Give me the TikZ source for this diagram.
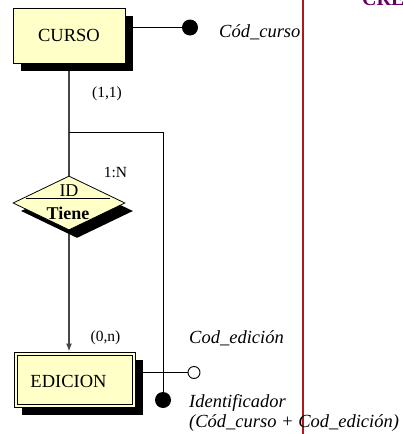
\documentclass[tikz,border=0pt]{standalone}
\usepackage{fontspec}
\setmainfont{Liberation Serif}
\usetikzlibrary{shapes.geometric,shadows,arrows.meta,backgrounds}
\definecolor{entfill}{RGB}{255,255,200}
\definecolor{linkgray}{RGB}{70,70,70}
\definecolor{sepred}{RGB}{175,25,25}
\definecolor{titlepurple}{RGB}{102,0,102}
\tikzset{
  shade8/.style={general shadow={fill=black, shadow xshift=8pt, shadow yshift=-8pt}},
  entity/.style={rectangle, draw=black, line width=0.8pt, fill=entfill, shade8,
    minimum height=55pt, inner sep=0pt, font=\fontsize{18.5}{20}\selectfont},
  entname/.style={inner sep=0pt, font=\fontsize{18.5}{20}\selectfont},
  rel/.style={diamond, draw=black, line width=0.8pt, fill=entfill, shade8,
    minimum width=112pt, minimum height=54pt, inner sep=0pt},
  relname/.style={inner sep=0pt, font=\fontsize{18}{20}\selectfont},
  link/.style={draw=linkgray, line width=2pt},
  attrline/.style={draw=black, line width=1pt},
  keydot/.style={circle, fill=black, minimum size=16pt, inner sep=0pt},
  opendot/.style={circle, draw=black, fill=white, line width=0.9pt, minimum size=12pt, inner sep=0pt},
  card/.style={font=\fontsize{15.5}{17}\selectfont, inner sep=0pt},
  attrlabel/.style={font=\fontsize{18.5}{20}\selectfont\itshape, inner sep=0pt, anchor=base west},
}
\begin{document}
\begin{tikzpicture}[x=1pt,y=-1pt]
\useasboundingbox (0,0) rectangle (403,434);
\clip (0,0) rectangle (403,434);

% title fragment and separator
\node[anchor=base west, inner sep=0pt, text=titlepurple,
      font=\fontsize{20}{22}\selectfont\bfseries] (title) at (362,5) {CRE};
\draw[sepred, line width=1.3pt] (303,0) -- (303,434);

% entities
\node[entity, minimum width=112pt] (curso) at (69,35.5) {CURSO};
\node[entity, minimum width=121pt] (edicion) at (74.5,379.5) {};
\draw[line width=0.8pt] ([shift={(3.5,3.5)}]edicion.north west)
  rectangle ([shift={(-3.5,-3.5)}]edicion.south east);
\node[entname] (edname) at (68.5,381) {EDICION};

% relationship
\node[rel] (tiene) at (69,203) {};
\draw[line width=0.8pt] ([shift={(-43.5,-5)}]tiene.center) -- ([shift={(40.5,-5)}]tiene.center);
\node[relname] (relid) at (69,191) {ID};
\node[relname, font=\fontsize{18}{20}\selectfont\bfseries] (relname) at (68,213) {Tiene};

% attribute markers
\node[keydot] (ckey) at (190,27.5) {};
\node[keydot] (ekey) at (163,400) {};
\node[opendot] (ecod) at (194,372.5) {};
\coordinate (split) at (69,132);

% connectors
\begin{scope}[on background layer]
  \draw[link] (curso.south) -- (tiene.north);
  \draw[link, -{Latex[length=8pt,width=6pt]}] (tiene.south) -- (tiene.south |- edicion.north);
  \draw[attrline] (split) -| (ekey.center);
  \draw[attrline] (ckey.center) -- (ckey.center -| curso.east);
  \draw[attrline] (ecod.center) -- (ecod.center -| edicion.east);
\end{scope}

% cardinalities
\node[card] (c11) at (107,94) {(1,1)};
\node[card] (c1n) at (115.5,172) {1:N};
\node[card] (c0n) at (105.5,338) {(0,n)};

% attribute names
\node[attrlabel] (lcurso) at (219,37) {Cód\_curso};
\node[attrlabel] (ledic) at (189,343) {Cod\_edición};
\node[attrlabel] (lident) at (189,407) {Identificador};
\node[attrlabel] (lcomp) at (189,427) {(Cód\_curso + Cod\_edición)};
\end{tikzpicture}
\end{document}
